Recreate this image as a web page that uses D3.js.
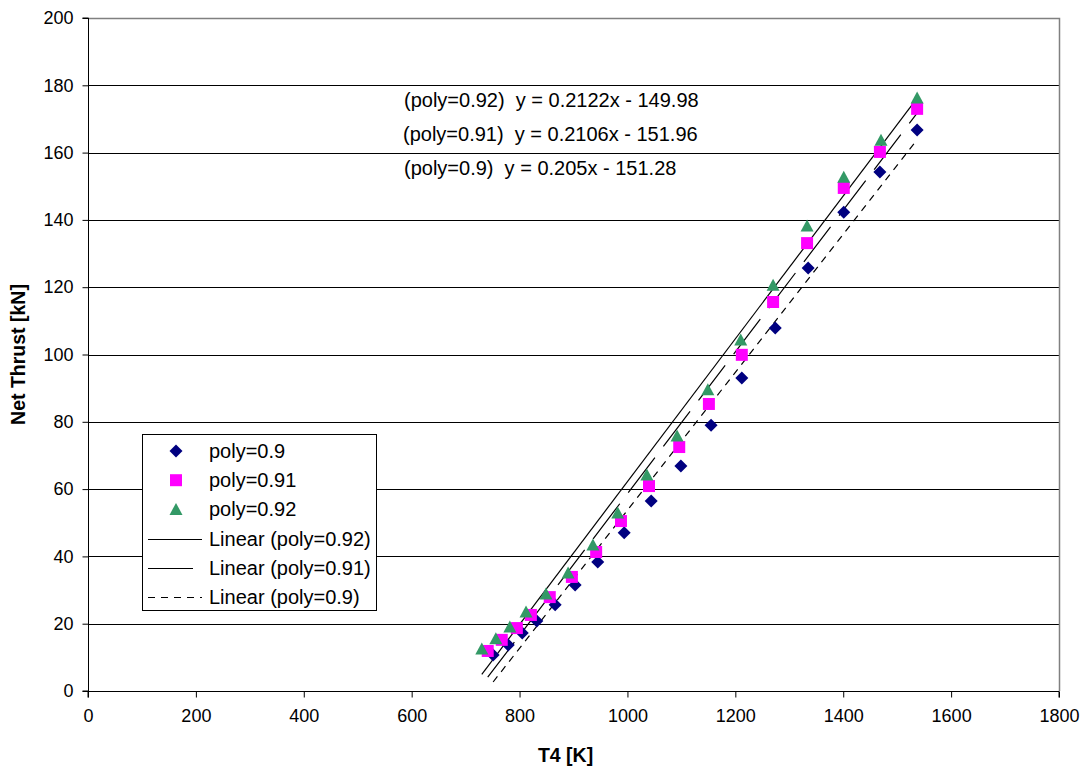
<!DOCTYPE html>
<html>
<head>
<meta charset="utf-8">
<script src="https://cdn.jsdelivr.net/npm/d3@7/dist/d3.min.js"></script>
<style>
  html, body { margin: 0; padding: 0; background: #fff; }
  svg { display: block; font-family: "Liberation Sans", Arial, sans-serif; }
  text { white-space: pre; }
</style>
</head>
<body>
<svg id="chart" width="1086" height="768"></svg>
<script>
// ---- data ----
const seriesNames = ["poly=0.9", "poly=0.91", "poly=0.92"];

const t4_poly090 = [751, 779, 805, 832, 866, 903, 945, 994, 1044, 1099, 1155, 1212, 1274, 1335, 1401, 1468, 1537];
const thrust_poly090 = [10.7, 13.7, 17.2, 20.8, 25.6, 31.5, 38.3, 47.0, 56.5, 66.9, 79.0, 93.0, 107.9, 125.7, 142.3, 154.2, 166.7];

const t4_poly091 = [741, 767, 795, 821, 856, 897, 942, 988, 1040, 1096, 1151, 1212, 1270, 1333, 1401, 1468, 1537];
const thrust_poly091 = [11.9, 15.2, 18.7, 22.6, 27.9, 33.9, 41.3, 50.5, 60.9, 72.5, 85.3, 99.9, 115.6, 133.1, 149.5, 160.2, 173.0];

const t4_poly092 = [730, 756, 782, 812, 849, 890, 936, 982, 1036, 1092, 1149, 1210, 1270, 1333, 1401, 1470, 1537];
const thrust_poly092 = [12.5, 15.5, 19.0, 23.5, 28.8, 35.1, 43.4, 52.9, 64.2, 75.8, 89.5, 104.3, 120.6, 138.2, 152.7, 163.7, 176.2];

// linear trendline coefficients as printed on the chart
const trendNames = ["poly=0.92", "poly=0.91", "poly=0.9"];
const trendSlopes = [0.2122, 0.2106, 0.205];
const trendIntercepts = [-149.98, -151.96, -151.28];
const trendLabels = [
  "(poly=0.92)  y = 0.2122x - 149.98",
  "(poly=0.91)  y = 0.2106x - 151.96",
  "(poly=0.9)  y = 0.205x - 151.28"
];

const xTicks = [0, 200, 400, 600, 800, 1000, 1200, 1400, 1600, 1800];
const yTicks = [0, 20, 40, 60, 80, 100, 120, 140, 160, 180, 200];

// ---- layout ----
const svg = d3.select("#chart");
const L = 88, R = 1059, T = 18, B = 691;
const x = d3.scaleLinear().domain([0, 1800]).range([L, R]);
const y = d3.scaleLinear().domain([0, 200]).range([B, T]);

// gridlines
svg.append("g").selectAll("line").data(yTicks.filter(d => d > 0 && d < 200)).join("line")
  .attr("x1", L).attr("x2", R)
  .attr("y1", d => Math.round(y(d)) + 0.5).attr("y2", d => Math.round(y(d)) + 0.5)
  .attr("stroke", "#000").attr("stroke-width", 1);

// plot frame (top + right gray)
svg.append("path")
  .attr("d", `M${L},${T + 0.5}H${R + 0.5}V${B}`)
  .attr("fill", "none").attr("stroke", "#808080").attr("stroke-width", 1.5);

// axes
const xAxis = d3.axisBottom(x).tickValues(xTicks).tickSize(6).tickPadding(12).tickFormat(d3.format("d"));
const yAxis = d3.axisLeft(y).tickValues(yTicks).tickSize(6).tickPadding(9).tickFormat(d3.format("d"));

const gx = svg.append("g").attr("transform", `translate(0,${Math.round(B) + 0.5})`).call(xAxis);
const gy = svg.append("g").attr("transform", `translate(${L + 0.5},0)`).call(yAxis);
[gx, gy].forEach(g => {
  g.select(".domain").attr("stroke", "#000").attr("stroke-width", 1);
  g.selectAll(".tick line").attr("stroke", "#000");
  g.selectAll(".tick text").attr("font-size", 18).attr("fill", "#000")
    .attr("font-family", "'Liberation Sans', Arial, sans-serif");
});
gx.select(".domain").attr("d", `M${L},6V0H${R}V6`);
gy.select(".domain").attr("d", `M-6,${T}H0V${B}H-6`);

// axis titles
svg.append("text").attr("x", (L + R) / 2 - 8).attr("y", 762)
  .attr("text-anchor", "middle").attr("font-weight", "bold").attr("font-size", 19.5)
  .text("T4 [K]");
svg.append("text").attr("transform", `translate(25,${(T + B) / 2}) rotate(-90)`)
  .attr("text-anchor", "middle").attr("font-weight", "bold").attr("font-size", 19.5)
  .text("Net Thrust [kN]");

// trendlines
const xData = { "poly=0.9": t4_poly090, "poly=0.91": t4_poly091, "poly=0.92": t4_poly092 };
const dashes = { "poly=0.92": null, "poly=0.91": "44,14", "poly=0.9": "7,6" };
trendNames.forEach((name, i) => {
  const xs = xData[name];
  const x0 = d3.min(xs), x1 = d3.max(xs);
  const f = v => trendSlopes[i] * v + trendIntercepts[i];
  svg.append("line")
    .attr("x1", x(x0)).attr("y1", y(f(x0)))
    .attr("x2", x(x1)).attr("y2", y(f(x1)))
    .attr("stroke", "#000").attr("stroke-width", 1.2)
    .attr("stroke-dasharray", dashes[name]);
});

// markers
const colors = { "poly=0.9": "#000080", "poly=0.91": "#FF00FF", "poly=0.92": "#339966" };
function markerPath(name) {
  if (name === "poly=0.9") return "M0,-6.5L6.5,0L0,6.5L-6.5,0Z";
  if (name === "poly=0.91") return "M-6,-6H6V6H-6Z";
  return "M0,-6.5L6.5,5.5H-6.5Z";
}
const seriesData = [
  { name: "poly=0.9", xs: t4_poly090, ys: thrust_poly090 },
  { name: "poly=0.91", xs: t4_poly091, ys: thrust_poly091 },
  { name: "poly=0.92", xs: t4_poly092, ys: thrust_poly092 }
];
seriesData.forEach(s => {
  svg.append("g").selectAll("path").data(s.xs.map((v, i) => [v, s.ys[i]])).join("path")
    .attr("transform", d => `translate(${x(d[0])},${y(d[1])})`)
    .attr("d", markerPath(s.name))
    .attr("fill", colors[s.name]);
});

// trendline equations
const eqX = [404, 403, 404];
const eqY = [107, 141, 175];
trendLabels.forEach((t, i) => {
  svg.append("text").attr("x", eqX[i]).attr("y", eqY[i])
    .attr("xml:space", "preserve")
    .attr("font-size", 20).attr("fill", "#000").text(t);
});

// legend
const lg = svg.append("g");
lg.append("rect").attr("x", 142.5).attr("y", 434.5).attr("width", 234).attr("height", 176)
  .attr("fill", "#fff").attr("stroke", "#000").attr("stroke-width", 1);
const legendItems = [
  { label: "poly=0.9", type: "marker", key: "poly=0.9" },
  { label: "poly=0.91", type: "marker", key: "poly=0.91" },
  { label: "poly=0.92", type: "marker", key: "poly=0.92" },
  { label: "Linear (poly=0.92)", type: "line", key: "poly=0.92", x2: 202 },
  { label: "Linear (poly=0.91)", type: "line", key: "poly=0.91", x2: 193 },
  { label: "Linear (poly=0.9)", type: "line", key: "poly=0.9", x2: 202 }
];
legendItems.forEach((it, i) => {
  const cy = 451 + i * 29.2;
  if (it.type === "marker") {
    lg.append("path").attr("transform", `translate(176,${cy})`)
      .attr("d", markerPath(it.key)).attr("fill", colors[it.key]);
  } else {
    lg.append("line").attr("x1", 148).attr("x2", it.x2)
      .attr("y1", Math.round(cy) + 0.5).attr("y2", Math.round(cy) + 0.5)
      .attr("stroke", "#000").attr("stroke-width", 1)
      .attr("stroke-dasharray", it.key === "poly=0.9" ? "7,6" : null);
  }
  lg.append("text").attr("x", 209).attr("y", cy + 7).attr("font-size", 20).attr("fill", "#000").text(it.label);
});
</script>
</body>
</html>
